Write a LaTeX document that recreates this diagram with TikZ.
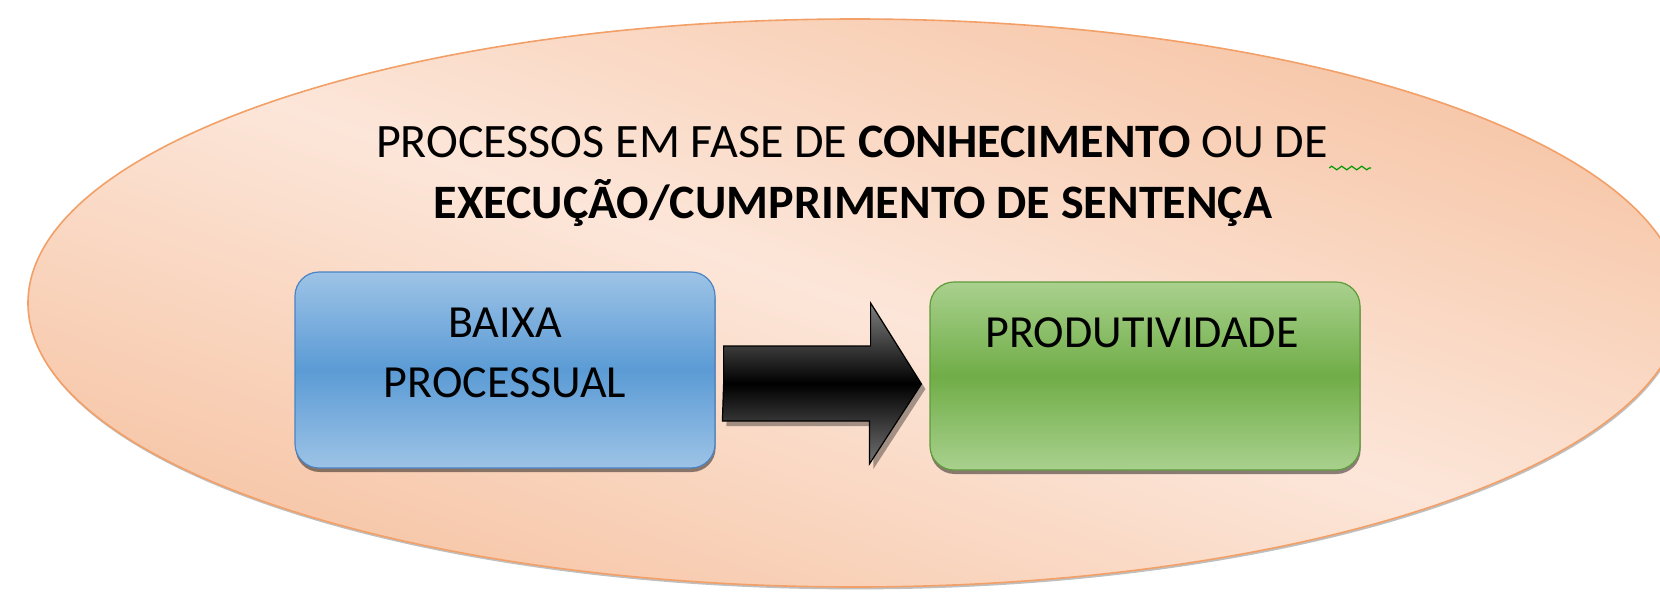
\documentclass[tikz,border=0pt]{standalone}
\usepackage{fontspec}
\setmainfont{Carlito}
\usepackage{tikz}
\usetikzlibrary{arrows, positioning, shapes, calc, shadows, decorations.pathmorphing}
\definecolor{peachlight}{HTML}{FCE6D9}
\definecolor{peachdark}{HTML}{F3B085}
\definecolor{peachline}{HTML}{F2A068}
\definecolor{bluelight}{HTML}{9DC3E6}
\definecolor{bluemid}{HTML}{5B9BD5}
\definecolor{blueline}{HTML}{4A84C4}
\definecolor{greenlight}{HTML}{A9D18E}
\definecolor{greenmid}{HTML}{70AD47}
\definecolor{greenline}{HTML}{5E9B3A}
% light band across the ellipse, dark towards two corners
\pgfdeclareverticalshading{peachband}{100bp}{color(0bp)=(peachdark); color(31bp)=(peachdark);
    color(50bp)=(peachlight); color(69bp)=(peachdark); color(100bp)=(peachdark)}
\tikzstyle{phase} = [ellipse, draw=peachline, line width=0.8pt, minimum width=827pt, minimum height=284pt, inner sep=0pt,
    drop shadow={shadow xshift=0.4pt, shadow yshift=-1.2pt, fill=black, opacity=0.25},
    path picture={\shade[shading=peachband, shading angle=-19]
        ($(path picture bounding box.center)+(-900,-900)$) rectangle ($(path picture bounding box.center)+(900,900)$);}]
\tikzstyle{stage} = [rectangle, rounded corners=12pt, line width=0.6pt, drop shadow={shadow xshift=0.3pt, shadow yshift=-2pt, fill=black, opacity=0.45}]
\tikzstyle{bluebox} = [stage, draw=blueline, top color=bluelight, bottom color=bluelight, middle color=bluemid, minimum width=210pt, minimum height=98pt]
\tikzstyle{greenbox} = [stage, draw=greenline, top color=greenlight, bottom color=greenlight, middle color=greenmid, minimum width=215pt, minimum height=94pt]
\tikzstyle{headtext} = [font=\fontsize{24}{28}\selectfont, inner sep=0pt, anchor=base]
\tikzstyle{boxtext} = [font=\fontsize{23}{27}\selectfont, inner sep=0pt, anchor=base]
\tikzstyle{blockarrow} = [draw=black, line width=0.6pt, top color=black!50, bottom color=black!55, middle color=black, drop shadow={shadow xshift=2pt, shadow yshift=-2.5pt, fill=black, opacity=0.35}]
\tikzstyle{squiggle} = [draw=green!60!black, line width=0.6pt, decorate, decoration={zigzag, segment length=5pt, amplitude=0.9pt}]

\begin{document}
\begin{tikzpicture}[x=0.5pt, y=-0.5pt]
    \useasboundingbox (0,0) rectangle (1660,595);

    % The phase
    \node[phase] (phase) at (855,303) {};
    \node[headtext] (head_one) at (852,157)
        {PROCESSOS EM FASE DE \textbf{CONHECIMENTO} OU DE};
    \node[headtext] (head_two) at (853,218)
        {\textbf{EXECUÇÃO/CUMPRIMENTO DE SENTENÇA}};
    \draw[squiggle] ($(head_one.base east)+(1,11)$) -- ++(42,0);

    % The boxes
    \node[bluebox] (baixa) at (505,370) {};
    \node[boxtext] (baixa_top) at ($(baixa)+(0,-33)$) {BAIXA};
    \node[boxtext] (baixa_bottom) at ($(baixa)+(0,27)$) {PROCESSUAL};
    \node[greenbox] (produtividade) at (1145,376) {};
    \node[boxtext] (produtividade_text) at ($(produtividade)+(-3,-29)$) {PRODUTIVIDADE};

    % The arrow
    \coordinate (arrow_start) at ($(baixa.east)+(8,14)$);
    \coordinate (arrow_end) at ($(produtividade.west)+(-8,8)$);
    \path[blockarrow] (arrow_start) -- ++(0,-38) -- ++(147,0) -- ++(0,-43)
        -- (arrow_end) -- ++(-52,80) -- ++(0,-43) -- ++(-147,0) -- cycle;
\end{tikzpicture}
\end{document}
